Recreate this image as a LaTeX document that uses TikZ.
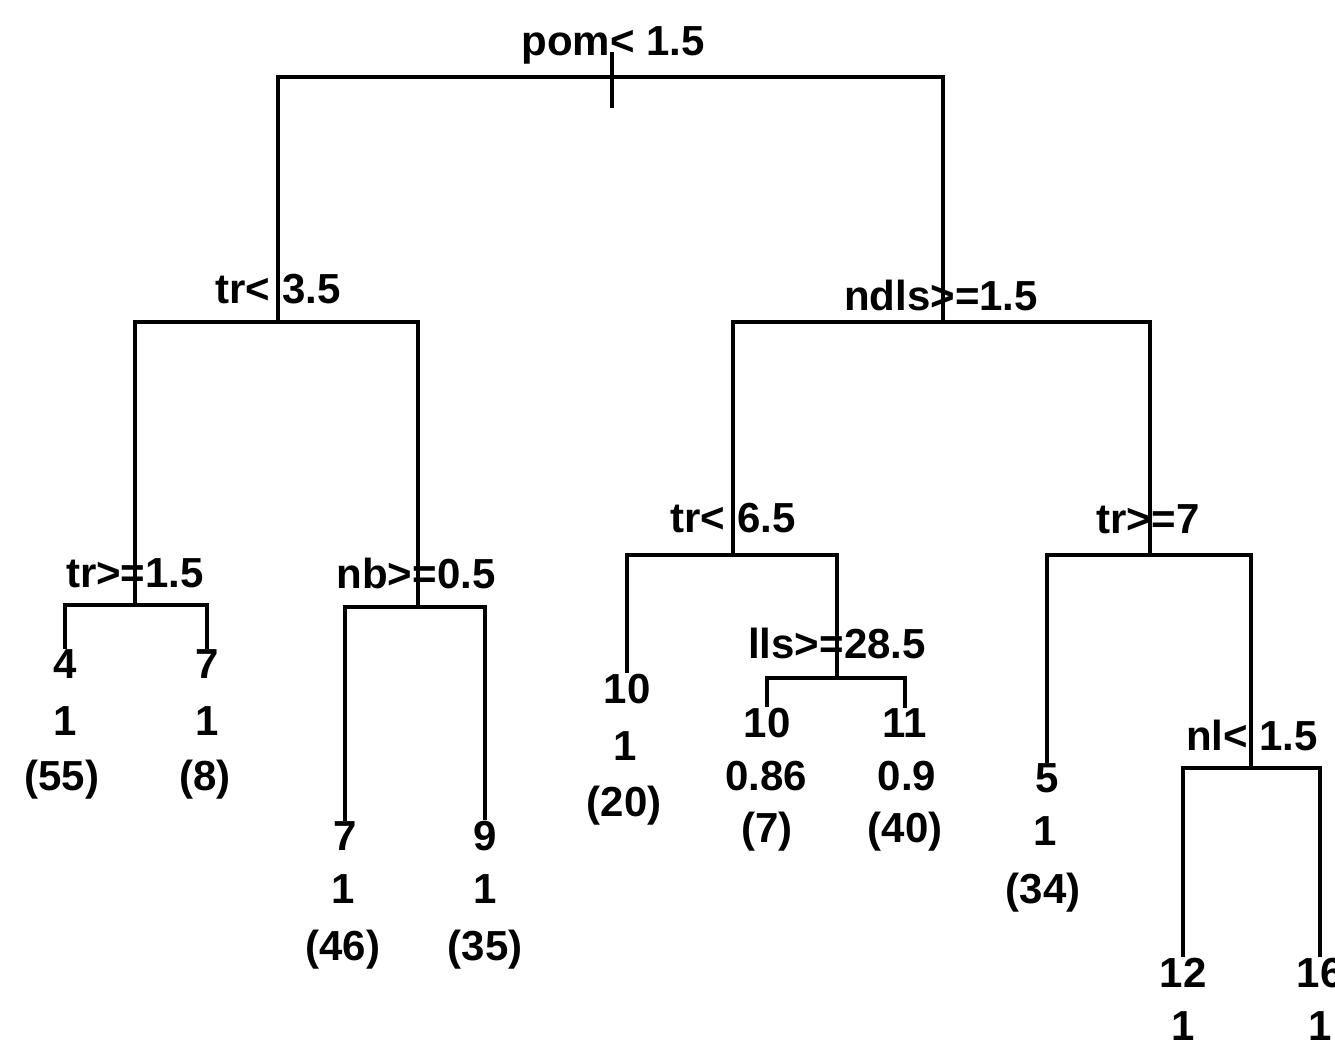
\documentclass[tikz,border=0pt]{standalone}
\usepackage{fontspec}
\setmainfont{Liberation Sans}
\begin{document}
\begin{tikzpicture}[x=1pt,y=-1pt,
  branch/.style={line width=4.5pt, line join=miter},
  lab/.style={font=\bfseries\fontsize{42}{50}\selectfont, inner sep=0pt, anchor=base},
]
\useasboundingbox (0,0) rectangle (1335,1046);

% split joints (where a split's stem meets its bar)
\coordinate (s1) at (612,77);
\coordinate (s2) at (278,322);
\coordinate (s3) at (943,322);
\coordinate (s4) at (135,605);
\coordinate (s5) at (418,607);
\coordinate (s6) at (733,555);
\coordinate (s7) at (1150,555);
\coordinate (s8) at (837,678);
\coordinate (s9) at (1251,768);
\coordinate (tTop) at (612,52);
\coordinate (tBot) at (612,108);

% split labels
\node[lab] (l1) at (613,56) {pom< 1.5};
\node[lab] (l2) at (278,303) {tr< 3.5};
\node[lab] (l3) at (941,310) {ndls>=1.5};
\node[lab] (l4) at (135,587) {tr>=1.5};
\node[lab] (l5) at (416,588) {nb>=0.5};
\node[lab] (l6) at (733,532) {tr< 6.5};
\node[lab] (l7) at (1148,533) {tr>=7};
\node[lab] (l8) at (837,658) {lls>=28.5};
\node[lab] (l9) at (1252,750) {nl< 1.5};

% leaves: class, probability, count
\node[lab] (a1) at (65,678) {4};
\node[lab] (a2) at (65,735) {1};
\node[lab] (a3) at (62,790) {(55)};
\node[lab] (b1) at (207,678) {7};
\node[lab] (b2) at (207,735) {1};
\node[lab] (b3) at (205,790) {(8)};
\node[lab] (c1) at (345,850) {7};
\node[lab] (c2) at (343,903) {1};
\node[lab] (c3) at (343,960) {(46)};
\node[lab] (d1) at (485,850) {9};
\node[lab] (d2) at (485,903) {1};
\node[lab] (d3) at (485,960) {(35)};
\node[lab] (e1) at (627,703) {10};
\node[lab] (e2) at (625,760) {1};
\node[lab] (e3) at (624,816) {(20)};
\node[lab] (f1) at (767,737) {10};
\node[lab] (f2) at (766,790) {0.86};
\node[lab] (f3) at (767,842) {(7)};
\node[lab] (g1) at (905,737) {11};
\node[lab] (g2) at (907,790) {0.9};
\node[lab] (g3) at (905,842) {(40)};
\node[lab] (h1) at (1047,792) {5};
\node[lab] (h2) at (1045,845) {1};
\node[lab] (h3) at (1043,903) {(34)};
\node[lab] (i1) at (1183,987) {12};
\node[lab] (i2) at (1183,1040) {1};
\node[lab] (j1) at (1320,987) {16};
\node[lab] (j2) at (1320,1040) {1};

% branches
\draw[branch] (tTop) -- (tBot);
\draw[branch] (s1) -| (s2);
\draw[branch] (s1) -| (s3);
\draw[branch] (s2) -| (s4);
\draw[branch] (s2) -| (s5);
\draw[branch] (s3) -| (s6);
\draw[branch] (s3) -| (s7);
\draw[branch] (s4) -| (a1.north);
\draw[branch] (s4) -| (b1.north);
\draw[branch] (s5) -| (c1.north);
\draw[branch] (s5) -| (d1.north);
\draw[branch] (s6) -| (e1.north);
\draw[branch] (s6) -| (s8);
\draw[branch] (s8) -| (f1.north);
\draw[branch] (s8) -| (g1.north);
\draw[branch] (s7) -| (h1.north);
\draw[branch] (s7) -| (s9);
\draw[branch] (s9) -| (i1.north);
\draw[branch] (s9) -| (j1.north);
\end{tikzpicture}
\end{document}
